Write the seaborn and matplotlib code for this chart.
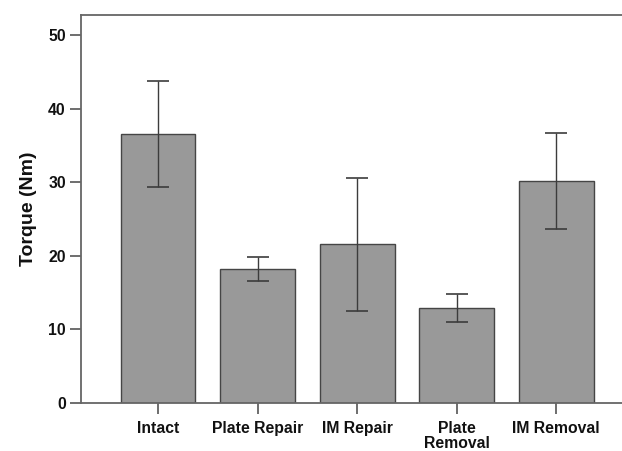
import matplotlib
matplotlib.use("Agg")
import matplotlib.pyplot as plt
import seaborn as sns
import pandas as pd
import numpy as np

categories = ["Intact", "Plate Repair", "IM Repair", "Plate\nRemoval", "IM Removal"]
means = [36.6, 18.2, 21.6, 12.9, 30.2]
err_low = [29.4, 16.6, 12.5, 11.0, 23.7]
err_high = [43.8, 19.8, 30.6, 14.85, 36.7]
yticks = [0, 10, 20, 30, 40, 50]

sns.set_style("white")
plt.rcParams['font.family'] = ['Liberation Sans', 'DejaVu Sans']

df = pd.DataFrame({"cat": categories, "torque": means})

fig = plt.figure(figsize=(6.22, 4.51), dpi=100)
ax = fig.add_axes([81/622, (451-403)/451, 1 - 81/622, (403-15)/451])

sns.barplot(data=df, x="cat", y="torque", color="#999999", saturation=1,
            edgecolor="#454545", linewidth=1.0, width=0.75, errorbar=None, ax=ax)

m = np.array(means)
yerr = [m - np.array(err_low), np.array(err_high) - m]
ax.errorbar(np.arange(len(categories)), m, yerr=yerr, fmt="none",
            ecolor="#3c3c3c", elinewidth=1.0, capsize=8, capthick=1.2)

ax.set_ylim(0, 52.7)
ax.set_xlim(-0.775, 4.66)
ax.set_yticks(yticks)
ax.set_yticklabels([str(t) for t in yticks], fontsize=11.3, fontweight="bold", color="#111111")
ax.set_xticks(np.arange(len(categories)))
ax.set_xticklabels(categories, fontsize=11.3, fontweight="bold", color="#111111", linespacing=1.0)
ax.set_xlabel("")
ax.set_ylabel("Torque (Nm)", fontsize=14, fontweight="bold", color="#111111", labelpad=8)

for side in ["left", "top", "bottom"]:
    ax.spines[side].set_visible(True)
    ax.spines[side].set_color("#666666")
    ax.spines[side].set_linewidth(1.3)
ax.spines["right"].set_visible(False)

ax.tick_params(axis="both", direction="out", length=8, width=1.2, color="#555555", pad=3)
ax.tick_params(axis="x", pad=5)
ax.tick_params(left=True, bottom=True)

fig.savefig("out.png", dpi=100)
